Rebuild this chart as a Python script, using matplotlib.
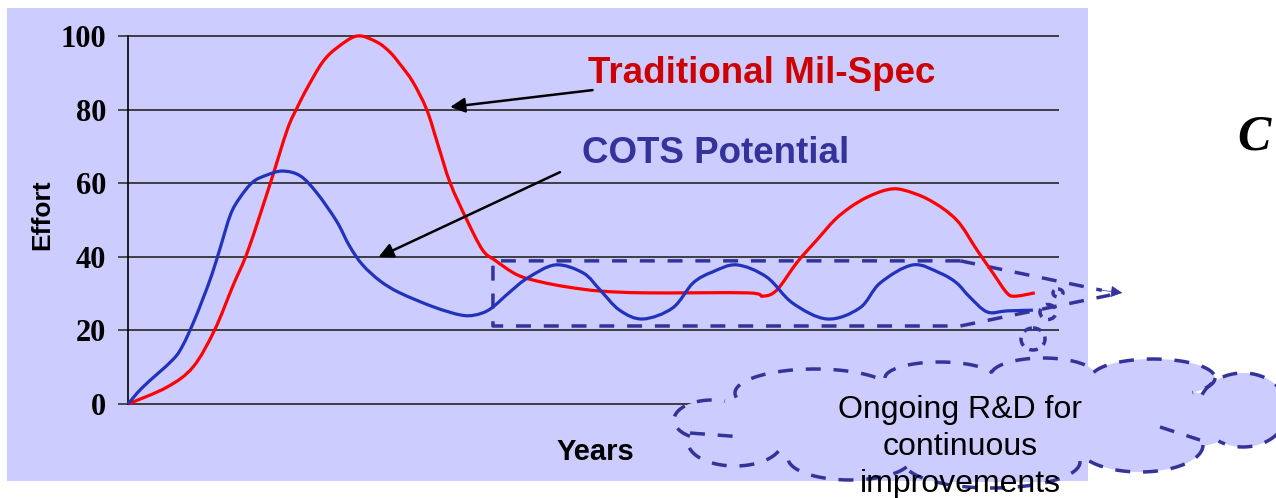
import numpy as np
import matplotlib.pyplot as plt
from matplotlib.patches import Rectangle, Ellipse, PathPatch
from matplotlib.path import Path

# effort curves over the product life (x is years, 0-100 scale)
mil_spec_x = [0, 4.2, 7.0, 9.3, 11.3, 12.9, 15.3, 17.1, 18.2, 19.3, 20.9, 22.4, 24.6,
              26.7, 28.1, 29.2, 30.6, 32.1, 33.3, 34.6, 36.4, 38.1, 39.4, 41.8, 44.3,
              47.2, 50.7, 55.7, 66.5, 68.2, 69.7, 71.9, 74.0, 75.9, 77.6, 79.4, 81.5,
              83.2, 86.1, 89.0, 91.2, 92.9, 94.4, 95.3, 97.4]
mil_spec_y = [0, 4.6, 10.1, 20.1, 32.3, 41.8, 60.1, 74.5, 80.7, 86.1, 92.9, 96.7, 100,
              98.4, 95.7, 92.4, 87.5, 79.9, 70.4, 60.1, 50.0, 41.8, 39.1, 35.1, 33.2,
              31.8, 30.7, 30.2, 30.2, 29.3, 31.0, 38.6, 44.6, 50.0, 53.5, 56.2, 58.2,
              58.2, 55.4, 50.0, 41.8, 35.6, 30.2, 29.3, 30.2]

cots_x = [0, 1.6, 4.8, 5.9, 7.0, 8.0, 9.0, 9.9, 11.0, 12.0, 13.4, 14.9, 16.6, 18.5,
          20.3, 22.4, 23.8, 25.2, 27.1, 29.2, 32.8, 35.7, 37.3, 38.9, 41.0, 42.9, 45.9,
          48.9, 50.7, 52.8, 55.3, 58.5, 60.7, 62.8, 65.4, 68.6, 71.4, 75.1, 78.6, 80.8,
          84.3, 87.2, 89.0, 90.4, 92.3, 94.4, 97.2]
cots_y = [0, 4.6, 12.0, 16.0, 22.0, 28.3, 35.1, 42.4, 51.4, 56.0, 60.3, 62.2, 63.3, 62.0,
          57.3, 49.7, 42.9, 37.8, 33.4, 30.2, 26.4, 24.2, 24.2, 25.8, 30.4, 34.2, 37.8,
          35.6, 31.0, 25.5, 23.1, 26.1, 32.9, 35.9, 37.8, 34.5, 27.4, 23.1, 26.1, 32.9,
          37.8, 35.6, 32.9, 29.1, 25.0, 25.3, 25.5]

effort_ticks = [0, 20, 40, 60, 80, 100]

BG = "#ccccff"
NAVY = "#333399"
DASH = (0, (4.3, 3.7))


def smoothed_line(xs, ys):
    # smoothed-line rendering: cubic Bezier segments through each point
    pts = np.column_stack([xs, ys]).astype(float)
    verts = [pts[0]]
    codes = [Path.MOVETO]
    n = len(pts)
    for i in range(n - 1):
        p0 = pts[max(i - 1, 0)]
        p1, p2 = pts[i], pts[i + 1]
        p3 = pts[min(i + 2, n - 1)]
        verts += [p1 + (p2 - p0) / 6, p2 - (p3 - p1) / 6, p2]
        codes += [Path.CURVE4] * 3
    return Path(verts, codes)


fig = plt.figure(figsize=(12.76, 4.98), dpi=100)
fig.patches.append(Rectangle((7 / 1276, 1 - 481 / 498), 1081 / 1276, 473 / 498,
                             transform=fig.transFigure, facecolor=BG,
                             edgecolor="none", zorder=0))

ax = fig.add_axes([128 / 1276, 94 / 498, 931 / 1276, 368 / 498])
ax.set_zorder(1)
ax.patch.set_visible(False)
ax.set_xlim(0, 100)
ax.set_ylim(0, 100)
for s in ["top", "right", "bottom"]:
    ax.spines[s].set_visible(False)
ax.spines["left"].set_color("black")
ax.spines["left"].set_linewidth(1.2)
ax.set_xticks([])
ax.set_yticks(effort_ticks)
ax.set_yticklabels([str(t) for t in effort_ticks], family="Liberation Serif",
                   fontweight="bold", fontsize=22)
ax.tick_params(axis="y", length=7.2, width=1.2, color="#333333", pad=8.6)
ax.hlines(effort_ticks, 0, 100, color="#333333", lw=1.3, clip_on=False, zorder=1)

for xs, ys, col in [(mil_spec_x, mil_spec_y, "#ff0000"), (cots_x, cots_y, "#2233bb")]:
    ax.add_patch(PathPatch(smoothed_line(xs, ys), facecolor="none", edgecolor=col,
                           lw=2.3, clip_on=False, zorder=3))

# callout arrows from the labels
arrow_kw = dict(arrowstyle="-|>", color="black", lw=1.8, mutation_scale=22,
                shrinkA=0, shrinkB=0)
ax.annotate("", xy=(34.6, 80.7), xytext=(49.9, 85.3), arrowprops=arrow_kw,
            annotation_clip=False, zorder=4)
ax.annotate("", xy=(26.9, 39.9), xytext=(46.4, 63.0), arrowprops=arrow_kw,
            annotation_clip=False, zorder=4)

# dashed zoom box around the steady-state region
ax.plot([89.4, 39.2, 39.2, 89.4, 105.5], [38.9, 38.9, 21.2, 21.2, 29.6],
        color=NAVY, lw=2.5, ls=DASH, clip_on=False, zorder=2)
ax.plot([89.4, 104.6], [38.9, 30.9], color=NAVY, lw=2.5, ls=DASH,
        clip_on=False, zorder=2)
ax.annotate("", xy=(106.8, 30.2), xytext=(104.6, 30.9),
            arrowprops=dict(arrowstyle="-|>", color=NAVY, lw=0.5,
                            mutation_scale=18, shrinkA=0, shrinkB=0),
            annotation_clip=False)

fig.text(762 / 1276, 1 - 73 / 498, "Traditional Mil-Spec", color="#cc0000",
         family="Liberation Sans", fontweight="bold", fontsize=26.5,
         ha="center", va="center")
fig.text(716 / 1276, 1 - 153 / 498, "COTS Potential", color=NAVY,
         family="Liberation Sans", fontweight="bold", fontsize=26.5,
         ha="center", va="center")
fig.text(595 / 1276, 1 - 452 / 498, "Years", family="Liberation Sans",
         fontweight="bold", fontsize=21, ha="center", va="center")
fig.text(42 / 1276, 1 - 215 / 498, "Effort", family="Liberation Sans",
         fontweight="bold", fontsize=19, rotation=90, ha="center", va="center")
fig.text(1237 / 1276, 1 - 149 / 498, "C", family="Liberation Serif",
         fontweight="bold", style="italic", fontsize=36, ha="left", va="baseline")

# thought cloud drawn in pixel units on a full-figure overlay
ov = fig.add_axes([0, 0, 1, 1])
ov.set_xlim(0, 1276)
ov.set_ylim(498, 0)
ov.axis("off")
ov.set_zorder(2)

lobes = [(712, 420, 38, 20), (735, 442, 47, 24), (850, 458, 62, 22),
         (992, 462, 88, 26), (1140, 445, 63, 27), (1243, 410, 45, 37),
         (1153, 378, 62, 19), (1043, 375, 52, 17), (940, 378, 55, 16),
         (815, 393, 80, 24)]
core = (975, 420, 280, 45)

for cx, cy, a, b in lobes + [core]:
    ov.add_patch(Ellipse((cx, cy), 2 * a, 2 * b, facecolor=BG, edgecolor="none",
                         zorder=1))
ov.add_patch(Rectangle((895, 481.5), 193, 20, facecolor="white", edgecolor="none",
                       zorder=1.5))

theta = np.linspace(0, 2 * np.pi, 721)
for i, (cx, cy, a, b) in enumerate(lobes):
    x = cx + a * np.cos(theta)
    y = cy + b * np.sin(theta)
    hidden = np.zeros_like(x, dtype=bool)
    for j, (cx2, cy2, a2, b2) in enumerate(lobes + [core]):
        if j == i:
            continue
        hidden |= ((x - cx2) / a2) ** 2 + ((y - cy2) / b2) ** 2 < 0.97
    x[hidden] = np.nan
    ov.plot(x, y, color=NAVY, lw=2.5, ls=DASH, zorder=2)

ov.plot([690, 743], [433, 437], color=NAVY, lw=2.5, ls=DASH, zorder=2)
ov.plot([1160, 1200], [427, 440], color=NAVY, lw=2.5, ls=DASH, zorder=2)

# small bubbles leading to the cloud
for cx, cy, w, h in [(1033, 339, 24, 22), (1048, 312, 16, 15), (1058, 293, 10, 8)]:
    ov.add_patch(Ellipse((cx, cy), w, h, facecolor="none", edgecolor=NAVY,
                         lw=2.5, ls=(0, (2.5, 2)), zorder=2))

for yy, line in [(410, "Ongoing R&D for"), (447, "continuous"), (484, "improvements")]:
    ov.text(960, yy, line, family="Liberation Sans", fontsize=23,
            ha="center", va="center", zorder=3)

fig.savefig("out.png", dpi=100)
